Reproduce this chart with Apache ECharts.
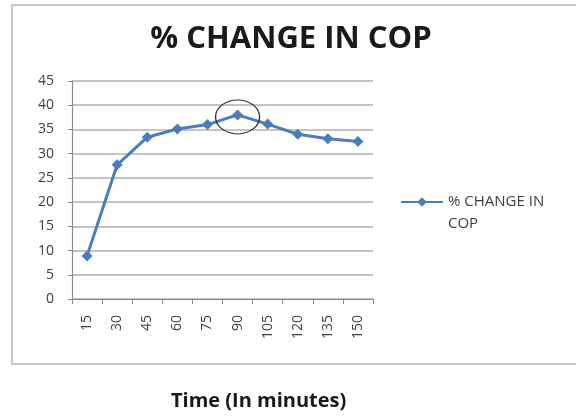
<!DOCTYPE html>
<html>
<head>
<meta charset="utf-8">
<style>
  html, body { margin: 0; padding: 0; background: #fff; }
  #chart { width: 576px; height: 417px; }
</style>
<script src="https://cdn.jsdelivr.net/npm/echarts@6/dist/echarts.min.js"></script>
</head>
<body>
<div id="chart"></div>
<script>
// Time points (minutes) and the measured % change in COP at each
const timeMinutes = ['15', '30', '45', '60', '75', '90', '105', '120', '135', '150'];
const copChange = [8.9, 27.7, 33.4, 35.1, 36.0, 38.0, 36.1, 34.0, 33.1, 32.5];
const yTicks = { min: 0, max: 45, interval: 5 };
const seriesName = '% CHANGE IN COP';
const peakTime = '90';
const peakValue = 38.0;

const chart = echarts.init(document.getElementById('chart'));
const FONT = 'Open Sans, Lato, sans-serif';

chart.setOption({
  animation: false,
  backgroundColor: '#fff',
  title: {
    text: seriesName,
    left: 286,
    top: 19,
    textAlign: 'center',
    textStyle: { fontFamily: FONT, fontSize: 31, fontWeight: 'bold', color: '#1a1a1a' }
  },
  legend: {
    data: [seriesName],
    left: 400,
    top: 169,
    padding: 0,
    itemWidth: 42,
    itemHeight: 12,
    // blank first line keeps the icon level with the first text line
    formatter: () => ' \n% CHANGE IN\nCOP',
    textStyle: { fontFamily: FONT, fontSize: 15, color: '#404040', lineHeight: 22 }
  },
  grid: { left: 72, right: 203, top: 81, bottom: 118 },
  xAxis: {
    type: 'category',
    data: timeMinutes,
    boundaryGap: true,
    axisLine: { lineStyle: { color: '#8c8c8c', width: 1.2 } },
    axisTick: { show: true, alignWithLabel: false, length: 5, lineStyle: { color: '#8c8c8c' } },
    axisLabel: { rotate: 90, margin: 16, fontFamily: FONT, fontSize: 14, color: '#404040' },
    splitLine: { show: false }
  },
  yAxis: {
    type: 'value',
    min: yTicks.min,
    max: yTicks.max,
    interval: yTicks.interval,
    axisLine: { show: true, lineStyle: { color: '#8c8c8c', width: 1.2 } },
    axisTick: { show: true, length: 4, lineStyle: { color: '#8c8c8c' } },
    axisLabel: { margin: 18, fontFamily: FONT, fontSize: 14, color: '#404040' },
    splitLine: { show: true, lineStyle: { color: '#b0b0b0', width: 1.6 } }
  },
  series: [{
    name: seriesName,
    type: 'line',
    data: copChange,
    symbol: 'diamond',
    symbolSize: 11,
    lineStyle: { color: '#4a7ebb', width: 3 },
    itemStyle: { color: '#4a7ebb' },
    markPoint: {
      silent: true,
      symbol: 'circle',
      symbolSize: [44, 34],
      symbolOffset: [0, 2],
      itemStyle: { color: 'rgba(0,0,0,0)', borderColor: '#333', borderWidth: 1.2 },
      label: { show: false },
      data: [{ coord: [peakTime, peakValue] }]
    }
  }],
  graphic: [
    {
      type: 'rect',
      shape: { x: 12, y: 5, width: 600, height: 359 },
      style: { fill: 'none', stroke: '#b8b8b8', lineWidth: 1.5 },
      z: -1
    },
    {
      type: 'text',
      left: 171,
      top: 391,
      style: { text: 'Time (In minutes)', fontFamily: FONT, fontSize: 20, fontWeight: 'bold', fill: '#1a1a1a' }
    }
  ]
});
</script>
</body>
</html>
